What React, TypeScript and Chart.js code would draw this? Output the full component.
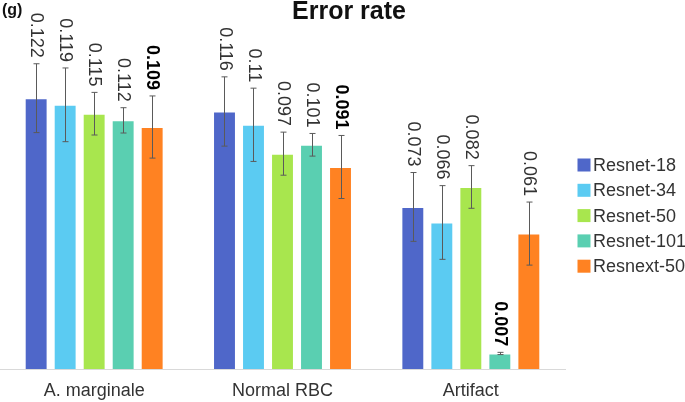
import { useEffect, useRef } from "react";
import { Chart, registerables } from "chart.js";

Chart.register(...registerables);

const categories = ["A. marginale", "Normal RBC", "Artifact"];
const seriesNames = ["Resnet-18", "Resnet-34", "Resnet-50", "Resnet-101", "Resnext-50"];
const resnet18 = [0.122, 0.116, 0.073];
const resnet34 = [0.119, 0.11, 0.066];
const resnet50 = [0.115, 0.097, 0.082];
const resnet101 = [0.112, 0.101, 0.007];
const resnext50 = [0.109, 0.091, 0.061];
const err18 = [0.0155, 0.0156, 0.0155];
const err34 = [0.0166, 0.0165, 0.0166];
const err50 = [0.0096, 0.0097, 0.0096];
const err101 = [0.0057, 0.0051, 0.0005];
const errX50 = [0.014, 0.0142, 0.0142];
const seriesColors = ["#4F67C9", "#5BCBF2", "#A8E64E", "#5ACFB1", "#FF8222"];

const seriesValues = [resnet18, resnet34, resnet50, resnet101, resnext50];
const seriesErrors = [err18, err34, err50, err101, errX50];

const FONT = "'Liberation Sans', Arial, sans-serif";

const overlay = {
  id: "overlay",
  afterDatasetsDraw(chart: any) {
    const ctx = chart.ctx as CanvasRenderingContext2D;
    const yScale = chart.scales.y;
    const mins = categories.map((_, i) => Math.min(...seriesValues.map((s) => s[i])));
    chart.data.datasets.forEach((ds: any, di: number) => {
      const meta = chart.getDatasetMeta(di);
      meta.data.forEach((bar: any, i: number) => {
        const v = ds.data[i] as number;
        const e = seriesErrors[di][i];
        const x = Math.round(bar.x) + 0.5;
        const yt = yScale.getPixelForValue(v + e);
        const yb = yScale.getPixelForValue(v - e);
        ctx.save();
        ctx.strokeStyle = "#5a5a5a";
        ctx.lineWidth = 1;
        ctx.beginPath();
        ctx.moveTo(x, yt);
        ctx.lineTo(x, yb);
        ctx.moveTo(x - 3, yt);
        ctx.lineTo(x + 3, yt);
        ctx.moveTo(x - 3, yb);
        ctx.lineTo(x + 3, yb);
        ctx.stroke();
        ctx.translate(bar.x, yt - 6);
        ctx.rotate(Math.PI / 2);
        ctx.textAlign = "right";
        ctx.textBaseline = "middle";
        const isMin = v === mins[i];
        ctx.font = `${isMin ? "bold " : ""}18px ${FONT}`;
        ctx.fillStyle = isMin ? "#000" : "#333";
        ctx.fillText(String(v), 0, 0);
        ctx.restore();
      });
    });
    // legend
    ctx.save();
    chart.data.datasets.forEach((ds: any, di: number) => {
      const cy = 165 + di * 25.3;
      ctx.fillStyle = ds.backgroundColor;
      ctx.fillRect(577.5, cy - 6.5, 13, 13);
      ctx.fillStyle = "#333";
      ctx.font = `18px ${FONT}`;
      ctx.textAlign = "left";
      ctx.textBaseline = "middle";
      ctx.fillText(ds.label, 593, cy + 1);
    });
    // titles
    ctx.fillStyle = "#111";
    ctx.textBaseline = "alphabetic";
    ctx.textAlign = "center";
    ctx.font = `bold 25px ${FONT}`;
    ctx.fillText("Error rate", 349, 19);
    ctx.textAlign = "left";
    ctx.font = `bold 16px ${FONT}`;
    ctx.fillText("(g)", 2, 15);
    ctx.restore();
  },
};

export default function App() {
  const ref = useRef<HTMLCanvasElement>(null);
  useEffect(() => {
    document.body.style.margin = "0";
    if (!ref.current) return;
    Chart.defaults.font.family = FONT;
    const chart = new Chart(ref.current, {
      type: "bar",
      data: {
        labels: categories,
        datasets: seriesNames.map((name, i) => ({
          label: name,
          data: seriesValues[i],
          backgroundColor: seriesColors[i],
          borderColor: "rgba(255,255,255,0.35)",
          borderWidth: 1,
          categoryPercentage: 0.77,
          barPercentage: 0.79,
        })),
      },
      options: {
        animation: false,
        responsive: true,
        maintainAspectRatio: false,
        layout: { padding: { top: 36, right: 120, left: 0, bottom: 0 } },
        plugins: {
          legend: { display: false },
          title: { display: false },
          tooltip: { enabled: false },
        },
        scales: {
          x: {
            grid: { display: false },
            border: { display: true, color: "#d9d9d9", width: 1 },
            ticks: { font: { size: 18, family: FONT }, color: "#333" },
            afterFit: (scale: any) => {
              scale.height = 33;
            },
          },
          y: {
            display: false,
            min: 0,
            max: 0.15,
          },
        },
      },
      plugins: [overlay],
    });
    return () => chart.destroy();
  }, []);
  return (
    <div style={{ width: 685, height: 402, position: "relative" }}>
      <canvas ref={ref} />
    </div>
  );
}
